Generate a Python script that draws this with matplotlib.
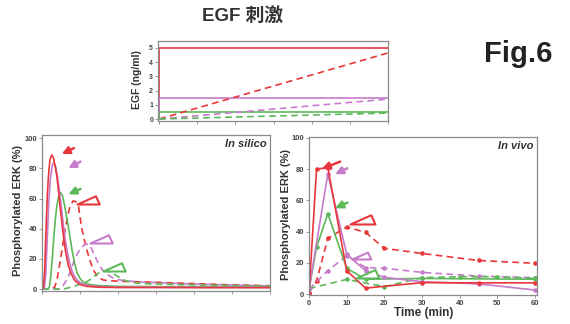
import numpy as np
import matplotlib
matplotlib.use('Agg')
import matplotlib.pyplot as plt
from matplotlib.path import Path
from matplotlib.markers import MarkerStyle
from matplotlib.transforms import offset_copy

plt.rcParams['font.family'] = ['Liberation Sans', 'Noto Sans CJK SC', 'DejaVu Sans']

RED = '#e8363a'
MAG = '#c67bcb'
GRN = '#5db85a'
TXT = '#333333'
SPN = '#8a8a8a'

# ---------------- data ----------------
# EGF input (ng/ml)
egf_step_t = [0, 0, 60]
egf_red_step = [0, 5.0, 5.0]
egf_mag_step = [0, 1.48, 1.48]
egf_grn_step = [0, 0.47, 0.47]
egf_ramp_t = [0, 60]
egf_red_ramp = [0, 4.65]
egf_mag_ramp = [0, 1.4]
egf_grn_ramp = [0, 0.42]

# In silico (time in min, % pERK)
sil_red_t = [0, 0.35, 0.7, 1.05, 1.4, 1.7, 2.1, 2.55, 3.0, 3.5, 3.9, 4.3, 4.7, 5.2, 5.6, 6.2, 6.9, 7.7, 8.7, 10, 11.8, 15, 20, 30, 45, 60]
sil_red_v = [0, 0.5, 12, 39, 62, 75, 86, 89, 87, 81, 75, 66, 56, 45, 36, 25, 16, 10, 5.5, 3, 1.8, 1.2, 1.0, 1.0, 0.9, 0.9]
sil_mag_t = [0, 0.6, 1.0, 1.4, 1.8, 2.2, 2.7, 3.1, 3.6, 4.1, 4.6, 5.1, 5.6, 6.1, 6.7, 7.4, 8.2, 9.2, 10.5, 12.5, 15, 20, 30, 60]
sil_mag_v = [0, 0.5, 10, 35, 58, 73, 82, 84, 81, 74, 65, 54, 43, 33, 24, 16, 10, 6, 3.5, 2.2, 1.6, 1.3, 1.2, 1.1]
sil_grn_t = [0, 1.5, 1.9, 2.3, 2.7, 3.1, 3.5, 3.9, 4.4, 4.9, 5.4, 5.9, 6.4, 6.9, 7.4, 7.9, 8.5, 9.2, 10.0, 10.9, 12.5, 15, 20, 30, 60]
sil_grn_v = [0, 0, 1, 8, 20, 34, 46, 55, 62, 64, 62, 56, 49, 42, 34, 26, 18, 11, 7, 4.5, 3, 2.3, 1.8, 1.6, 1.5]
sil_redd_t = [0, 2.5, 3.4, 4.0, 4.7, 5.4, 6.05, 6.7, 7.4, 8.2, 8.9, 9.6, 10.0, 10.4, 11.1, 11.8, 12.6, 13.5, 14.7, 16.1, 18, 22, 30, 40, 50, 60]
sil_redd_v = [0, 0, 1.5, 7, 17, 28, 39, 48, 55, 58.5, 58, 55, 48, 41, 33, 26, 19, 12.6, 8, 6, 5.5, 5, 4.5, 3.6, 2.8, 2.2]
sil_magd_t = [0, 4.5, 5.5, 6.5, 7.4, 8.2, 9.2, 10.2, 11.2, 12.2, 13.0, 13.9, 14.8, 15.8, 17, 18.5, 20.5, 24, 30, 40, 50, 60]
sil_magd_v = [0, 0, 2, 6, 11, 17, 23, 27, 29.5, 30, 27, 22, 17, 13, 10, 7.5, 6, 5, 4.2, 3.3, 2.6, 2.0]
sil_grnd_t = [0, 5.5, 7, 8.5, 10, 11.8, 13.3, 14.5, 15.5, 16.7, 17.8, 19.0, 20.5, 22, 24, 27, 35, 45, 60]
sil_grnd_v = [0, 0, 0.8, 2, 3.2, 4.8, 7.5, 10, 11.5, 12, 11.5, 9.8, 7.5, 5.5, 4.2, 3.5, 3.0, 2.5, 2.0]

# In vivo
viv_red_t = [0, 2, 5, 10, 15, 30, 45, 60]
viv_red_v = [0.5, 80, 81, 15, 3.8, 7.3, 7.2, 7.2]
viv_redd_t = [0, 2, 5, 10, 15, 20, 30, 45, 60]
viv_redd_v = [1, 8.3, 35.7, 43, 39.5, 29.3, 26, 21.5, 19.7]
viv_mag_t = [0, 5, 10, 15, 20, 30, 45, 60]
viv_mag_v = [3, 77, 25.5, 15, 10.7, 7.9, 6.5, 2.6]
viv_magd_t = [0, 5, 10, 15, 20, 30, 45, 60]
viv_magd_v = [3, 15, 24.5, 17, 16.5, 13.9, 11.5, 10.5]
viv_grn_t = [0, 2, 5, 10, 15, 30, 60]
viv_grn_v = [3, 30, 51.5, 16.5, 9.5, 10, 9.5]
viv_grnd_t = [0, 10, 20, 30, 40, 50, 60]
viv_grnd_v = [3.5, 9.4, 4.8, 10.5, 11.1, 11.1, 10]

time_ticks = [0, 10, 20, 30, 40, 50, 60]
erk_ticks = [0, 20, 40, 60, 80, 100]
egf_ticks = [0, 1, 2, 3, 4, 5]

# ---------------- figure ----------------
fig = plt.figure(figsize=(5.7, 3.24), dpi=100)
W, H = 570, 324

def add_ax(l, t, r, b):
    return fig.add_axes([l / W, 1 - b / H, (r - l) / W, (b - t) / H])

def style_ax(ax):
    for s in ax.spines.values():
        s.set_color(SPN)
        s.set_linewidth(0.9)
    ax.tick_params(direction='out', length=2, width=0.6, color=SPN,
                   labelsize=5.5, labelcolor='#444444', pad=1.5)
    for lab in ax.get_xticklabels() + ax.get_yticklabels():
        lab.set_fontweight('bold')

dash = (0, (4, 2.6))
lw = 1.2

# top panel
axT = add_ax(158, 41, 388, 121)
axT.plot(egf_step_t, egf_red_step, color=RED, lw=lw)
axT.plot(egf_step_t, egf_mag_step, color=MAG, lw=lw)
axT.plot(egf_step_t, egf_grn_step, color=GRN, lw=lw)
axT.plot(egf_ramp_t, egf_red_ramp, color=RED, lw=lw, ls=dash)
axT.plot(egf_ramp_t, egf_mag_ramp, color=MAG, lw=lw, ls=dash)
axT.plot(egf_ramp_t, egf_grn_ramp, color=GRN, lw=lw, ls=dash)
axT.set_xlim(-0.3, 60)
axT.set_ylim(-0.14, 5.49)
axT.set_yticks(egf_ticks)
axT.set_xticks(time_ticks)
axT.set_xticklabels([])
style_ax(axT)
axT.tick_params(labelsize=5)

# triangle marker path (tip at origin, pointing left)
tri_path = Path([(0, 0), (0.83, 0.37), (1.0, 0.0), (0, 0)],
                [Path.MOVETO, Path.LINETO, Path.LINETO, Path.CLOSEPOLY])
tri = MarkerStyle(tri_path)

def arrow(ax, xy, color, hx, hy, tx, ty):
    # head placed at (hx, hy) points from the data point, tail (tx, ty) points from the head
    tr = offset_copy(ax.transData, fig=fig, x=hx, y=hy, units='points')
    ax.annotate('', xy=xy, xycoords=tr, xytext=(tx, ty), textcoords='offset points',
                arrowprops=dict(arrowstyle='-|>,head_length=0.45,head_width=0.22',
                                color=color, lw=1.8, shrinkA=0, shrinkB=0),
                annotation_clip=False)

def triangle(ax, xy, color, dx, dy, size=32):
    tr = offset_copy(ax.transData, fig=fig, x=dx, y=dy, units='points')
    ax.plot([xy[0]], [xy[1]], marker=tri, ms=size, mfc='white', mec=color,
            mew=1.5, transform=tr, clip_on=False, zorder=5)

# in silico
axS = add_ax(42, 135, 270, 291)
axS.plot(sil_redd_t, sil_redd_v, color=RED, lw=lw, ls=dash)
axS.plot(sil_magd_t, sil_magd_v, color=MAG, lw=lw, ls=dash)
axS.plot(sil_grnd_t, sil_grnd_v, color=GRN, lw=lw, ls=dash)
axS.plot(sil_grn_t, sil_grn_v, color=GRN, lw=lw)
axS.plot(sil_mag_t, sil_mag_v, color=MAG, lw=lw)
axS.plot(sil_red_t, sil_red_v, color=RED, lw=lw)
axS.set_xlim(0, 60)
axS.set_ylim(-1.3, 102.2)
axS.set_yticks(erk_ticks)
axS.set_xticks(time_ticks)
axS.set_xticklabels([])
style_ax(axS)
axS.text(0.985, 0.975, 'In silico', transform=axS.transAxes, ha='right', va='top',
         fontsize=8, fontweight='bold', style='italic', color=TXT)

def peak(t, v):
    i = int(np.argmax(v))
    return (t[i], v[i])

arrow(axS, peak(sil_red_t, sil_red_v), RED, 7.2, 0.6, 8.8, 4.3)
arrow(axS, peak(sil_mag_t, sil_mag_v), MAG, 10.4, -4.2, 8.8, 4.8)
arrow(axS, peak(sil_grn_t, sil_grn_v), GRN, 5.5, -1.2, 8.8, 3.8)
triangle(axS, peak(sil_redd_t, sil_redd_v), RED, 3, -2)
triangle(axS, peak(sil_magd_t, sil_magd_v), MAG, 1.5, 0.5)
triangle(axS, peak(sil_grnd_t, sil_grnd_v), GRN, -1.5, 0)

# in vivo
axV = add_ax(309, 137, 537, 295)
mk = dict(marker='o', ms=3.3, mew=0)
axV.plot(viv_redd_t, viv_redd_v, color=RED, lw=lw, ls=dash, **mk)
axV.plot(viv_magd_t, viv_magd_v, color=MAG, lw=lw, ls=dash, **mk)
axV.plot(viv_grnd_t, viv_grnd_v, color=GRN, lw=lw, ls=dash, **mk)
axV.plot(viv_grn_t, viv_grn_v, color=GRN, lw=lw, **mk)
axV.plot(viv_mag_t, viv_mag_v, color=MAG, lw=lw, **mk)
axV.plot(viv_red_t, viv_red_v, color=RED, lw=lw, **mk)
axV.set_xlim(0, 60.5)
axV.set_ylim(-0.6, 100.6)
axV.set_yticks(erk_ticks)
axV.set_xticks(time_ticks)
style_ax(axV)
axV.text(0.985, 0.975, 'In vivo', transform=axV.transAxes, ha='right', va='top',
         fontsize=8, fontweight='bold', style='italic', color=TXT)

i5 = viv_red_t.index(5)
arrow(axV, (viv_red_t[i5], viv_red_v[i5]), RED, -4.4, -1.0, 13.2, 5.3)
i5 = viv_mag_t.index(5)
arrow(axV, (viv_mag_t[i5], viv_mag_v[i5]), MAG, 5.2, -0.3, 8.8, 4.3)
i5 = viv_grn_t.index(5)
arrow(axV, (viv_grn_t[i5], viv_grn_v[i5]), GRN, 5.2, 3.9, 8.8, 4.0)
i10 = viv_redd_t.index(10)
triangle(axV, (viv_redd_t[i10], viv_redd_v[i10]), RED, 2.5, 2, size=36)
i10 = viv_magd_t.index(10)
triangle(axV, (viv_magd_t[i10], viv_magd_v[i10]), MAG, 3.5, -2.5, size=27)
i10 = viv_grnd_t.index(10)
triangle(axV, (viv_grnd_t[i10], viv_grnd_v[i10]), GRN, 7, 1, size=33)

# labels
fig.text(243 / W, 1 - 17 / H, 'EGF 刺激', ha='center', va='center',
         fontsize=13.5, fontweight='bold', color=TXT)
fig.text(518 / W, 1 - 54 / H, 'Fig.6', ha='center', va='center',
         fontsize=21, fontweight='bold', color='#222222')
fig.text(137 / W, 1 - 80 / H, 'EGF (ng/ml)', rotation=90, ha='center', va='center',
         fontsize=7.5, fontweight='bold', color=TXT)
fig.text(18 / W, 1 - 210 / H, 'Phosphorylated ERK (%)', rotation=90, ha='center',
         va='center', fontsize=8, fontweight='bold', color=TXT)
fig.text(286 / W, 1 - 215 / H, 'Phosphorylated ERK (%)', rotation=90, ha='center',
         va='center', fontsize=8, fontweight='bold', color=TXT)
fig.text(424 / W, 1 - 313 / H, 'Time (min)', ha='center', va='center',
         fontsize=8.5, fontweight='bold', color=TXT)

fig.savefig('out.png', dpi=100, facecolor='white')
